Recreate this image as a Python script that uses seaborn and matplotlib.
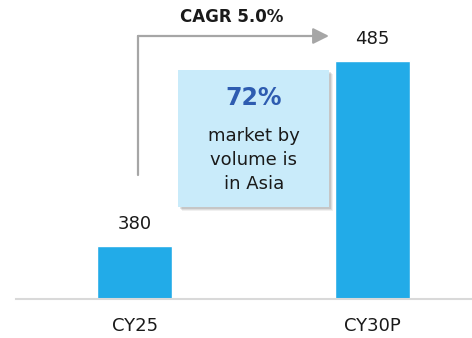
import matplotlib
matplotlib.use("Agg")
import matplotlib.pyplot as plt
from matplotlib.patches import FancyBboxPatch
import seaborn as sns
import pandas as pd

categories = ["CY25", "CY30P"]
values = [380, 485]
cagr_label = "CAGR 5.0%"
callout_value = "72%"
callout_text = "market by\nvolume is\nin Asia"

BAR_COLOR = "#22ABE8"
BOX_COLOR = "#C9EBFA"
HEAD_COLOR = "#2E5CB0"
ARROW_COLOR = "#A6A6A6"
TEXT_COLOR = "#1A1A1A"

sns.set_theme(style="white")
plt.rcParams["font.family"] = ["DejaVu Sans"]

W, H = 472, 338
fig = plt.figure(figsize=(W / 100, H / 100), dpi=100)
base_y = 298.7
ax = fig.add_axes([16 / W, (H - base_y) / H, 1 - 16 / W, base_y / H])

df = pd.DataFrame({"period": categories, "volume": values})
sns.barplot(data=df, x="period", y="volume", color=BAR_COLOR, width=0.315,
            saturation=1, ax=ax)

ax.set_ylim(350, 519.5)
ax.set_xlim(-0.5, 1.418)
for s in ["top", "right", "left"]:
    ax.spines[s].set_visible(False)
ax.spines["bottom"].set_color("#D9D9D9")
ax.spines["bottom"].set_linewidth(1.5)
ax.set_yticks([])
ax.set_xlabel("")
ax.set_ylabel("")
ax.tick_params(axis="x", length=0, pad=13, labelsize=13, colors=TEXT_COLOR)

# value labels above bars
for i, v in enumerate(values):
    ax.annotate(f"{v}", (i, v), xytext=(0, 9.5), textcoords="offset points",
                ha="center", va="bottom", fontsize=13, color=TEXT_COLOR)


def px(x, y):
    return x / W, 1 - y / H


# growth arrow
fig.add_artist(plt.Line2D([px(138, 0)[0]] * 2, [px(0, 175)[1], px(0, 36)[1]],
                          color=ARROW_COLOR, lw=1.6))
fig.add_artist(plt.Line2D([px(138, 0)[0], px(318, 0)[0]], [px(0, 36)[1]] * 2,
                          color=ARROW_COLOR, lw=1.6))
ax.annotate("", xy=px(329, 36), xytext=px(316, 36), xycoords="figure fraction",
            textcoords="figure fraction",
            arrowprops=dict(arrowstyle="-|>,head_length=0.8,head_width=0.4",
                            color=ARROW_COLOR, lw=1.6, shrinkA=0, shrinkB=0))
fig.text(*px(232, 17), cagr_label, ha="center", va="center", fontsize=12,
         fontweight="bold", color=TEXT_COLOR)

# callout box with soft shadow
bx0, by0, bx1, by1 = 178, 70, 329, 207
for k, a in [(4, 0.06), (3, 0.08), (2, 0.1)]:
    fig.add_artist(FancyBboxPatch(px(bx0 + k, by1 + k), (bx1 - bx0) / W, (by1 - by0) / H,
                                  boxstyle="square,pad=0", transform=fig.transFigure,
                                  facecolor="black", edgecolor="none", alpha=a))
fig.add_artist(FancyBboxPatch(px(bx0, by1), (bx1 - bx0) / W, (by1 - by0) / H,
                              boxstyle="square,pad=0", transform=fig.transFigure,
                              facecolor=BOX_COLOR, edgecolor="none"))
fig.text(*px(254, 98), callout_value, ha="center", va="center", fontsize=17,
         fontweight="bold", color=HEAD_COLOR)
fig.text(*px(254, 160), callout_text, ha="center", va="center", fontsize=13,
         color=TEXT_COLOR, linespacing=1.4)

fig.savefig("out.png", dpi=100)
